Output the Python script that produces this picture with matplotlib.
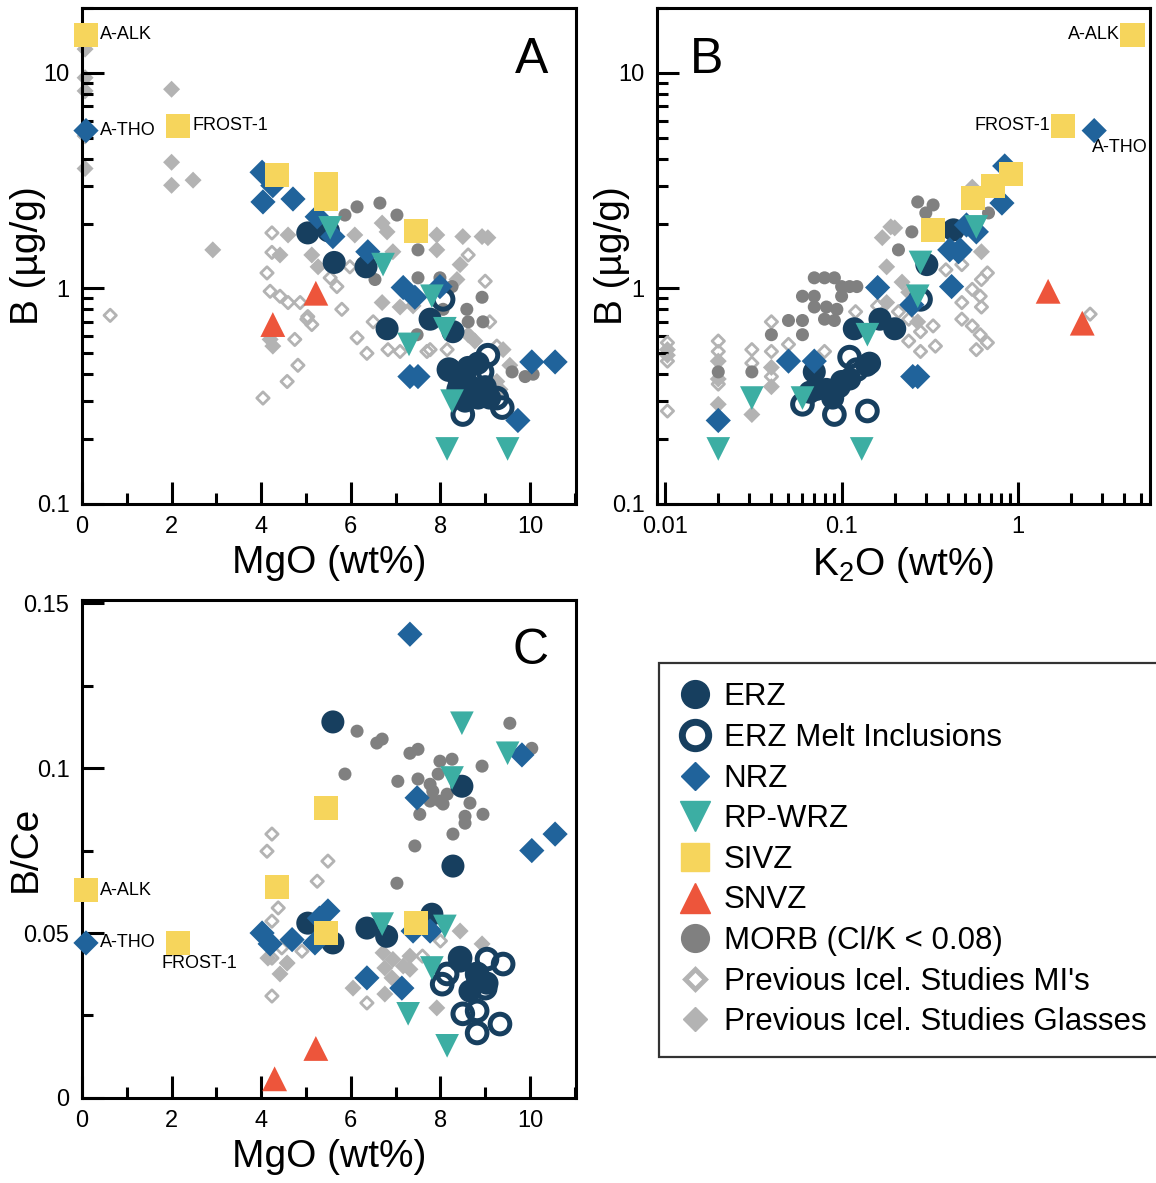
import matplotlib
matplotlib.use("Agg")
import matplotlib.pyplot as plt
from matplotlib import ticker
from matplotlib.lines import Line2D

plt.rcParams['font.family'] = ['Liberation Sans', 'DejaVu Sans']
plt.rcParams['mathtext.default'] = 'regular'

# ---------------- data : panel A (MgO vs B) ----------------
erz_mgo_a = [5.04, 5.5, 5.63, 6.34, 6.81, 7.77, 8.28, 8.21, 8.44, 8.62, 8.84, 8.39, 8.71, 9.0, 8.84, 8.55, 9.1]
erz_b_a = [1.81, 1.85, 1.32, 1.26, 0.65, 0.72, 0.63, 0.42, 0.38, 0.43, 0.45, 0.34, 0.34, 0.35, 0.31, 0.30, 0.31]
erzmi_mgo_a = [8.06, 8.19, 9.06, 8.5, 9.38, 9.26, 8.66, 8.44, 8.93]
erzmi_b_a = [0.89, 0.42, 0.49, 0.26, 0.28, 0.31, 0.38, 0.36, 0.41]
nrz_mgo_a = [0.09, 4.02, 4.04, 4.71, 4.26, 5.25, 5.6, 6.38, 7.17, 7.43, 7.99, 7.32, 7.5, 10.04, 10.56, 9.73]
nrz_b_a = [5.4, 3.46, 2.52, 2.6, 3.0, 2.15, 1.74, 1.48, 1.01, 0.91, 1.02, 0.39, 0.39, 0.456, 0.456, 0.244]
rpw_mgo_a = [5.54, 6.72, 7.3, 7.81, 8.1, 8.26, 8.15, 9.5]
rpw_b_a = [1.91, 1.29, 0.55, 0.92, 0.65, 0.30, 0.18, 0.18]
sivz_mgo_a = [0.1, 2.15, 4.35, 5.45, 5.45, 7.45]
sivz_b_a = [15.0, 5.7, 3.35, 3.05, 2.6, 1.85]
snvz_mgo_a = [4.26, 5.22]
snvz_b_a = [0.68, 0.95]
morb_mgo_a = [5.87, 6.14, 6.65, 7.03, 7.5, 6.54, 7.5, 7.99, 8.26, 8.93, 8.59, 8.62, 8.95, 8.06, 7.48, 9.6, 10.07, 9.89]
morb_b_a = [2.19, 2.39, 2.49, 2.19, 1.51, 1.10, 1.12, 1.12, 1.02, 0.91, 0.80, 0.70, 0.70, 0.80, 0.61, 0.41, 0.40, 0.39]
glass_mgo_a = [0.07, 0.07, 0.07, 0.07, 0.07, 2.0, 2.0, 2.0, 2.48, 2.92, 4.6, 4.42, 5.13, 5.27, 6.09, 6.7, 6.81,
               6.94, 6.7, 7.1, 4.2, 4.26, 7.92, 7.92, 8.5, 8.93, 9.06, 8.44, 8.37, 7.39, 8.62, 8.77, 9.4, 9.55, 9.26, 9.33]
glass_b_a = [12.9, 9.5, 8.25, 5.1, 3.6, 8.4, 3.85, 3.01, 3.18, 1.51, 1.77, 1.43, 1.43, 1.26, 1.77, 2.01, 1.83,
             1.48, 0.86, 0.82, 0.58, 0.54, 1.77, 1.51, 1.74, 1.74, 1.72, 1.29, 1.10, 0.83, 0.61, 0.57, 0.52, 0.44, 0.37, 0.34]
mi_mgo_a = [0.63, 4.24, 4.24, 4.13, 4.2, 4.42, 4.6, 4.87, 5.04, 5.13, 4.75, 4.04, 4.82, 4.58, 5.54, 5.69, 5.8,
            5.98, 6.14, 6.36, 6.5, 6.83, 7.1, 7.7, 8.62, 9.0, 9.1, 8.66, 8.15, 7.77, 5.02, 9.26]
mi_b_a = [0.75, 1.81, 1.47, 1.18, 0.97, 0.92, 0.86, 0.86, 0.74, 0.68, 0.58, 0.31, 0.44, 0.37, 1.12, 1.02, 0.80,
          1.26, 0.59, 0.50, 0.70, 0.52, 0.51, 0.51, 1.43, 1.08, 0.70, 0.60, 0.52, 0.52, 0.72, 0.54]

# ---------------- data : panel B (K2O vs B) ----------------
erz_k2o_b = [0.165, 0.2, 0.118, 0.304, 0.43, 0.144, 0.07, 0.072, 0.082, 0.097, 0.1, 0.089, 0.066, 0.111, 0.139]
erz_b_b = [0.72, 0.65, 0.65, 1.29, 1.87, 0.45, 0.41, 0.34, 0.34, 0.35, 0.37, 0.31, 0.33, 0.38, 0.44]
erzmi_k2o_b = [0.111, 0.122, 0.06, 0.091, 0.14, 0.28]
erzmi_b_b = [0.48, 0.42, 0.29, 0.26, 0.27, 0.89]
nrz_k2o_b = [2.7, 0.81, 0.84, 0.51, 0.41, 0.46, 0.42, 0.25, 0.16, 0.253, 0.27, 0.47, 0.58, 0.05, 0.07, 0.02]
nrz_b_b = [5.4, 2.49, 3.7, 1.97, 1.51, 1.48, 1.02, 0.84, 1.01, 0.39, 0.39, 1.51, 1.83, 0.46, 0.46, 0.244]
rpw_k2o_b = [0.14, 0.28, 0.27, 0.58, 0.031, 0.02, 0.13, 0.06]
rpw_b_b = [0.61, 1.32, 0.92, 1.93, 0.31, 0.18, 0.18, 0.31]
sivz_k2o_b = [4.45, 1.8, 0.91, 0.72, 0.555, 0.33]
sivz_b_b = [15.0, 5.7, 3.4, 3.0, 2.63, 1.87]
snvz_k2o_b = [1.48, 2.31]
snvz_b_b = [0.97, 0.69]
morb_k2o_b = [0.07, 0.08, 0.091, 0.1, 0.111, 0.122, 0.06, 0.07, 0.1, 0.07, 0.082, 0.094, 0.08, 0.091, 0.05,
              0.06, 0.06, 0.04, 0.02, 0.031, 0.27, 0.33, 0.3, 0.25, 0.21, 0.68]
morb_b_b = [1.12, 1.12, 1.12, 1.02, 1.02, 1.02, 0.92, 0.92, 0.92, 0.82, 0.82, 0.80, 0.72, 0.71, 0.71,
            0.71, 0.61, 0.61, 0.41, 0.41, 2.52, 2.44, 2.24, 1.83, 1.51, 2.24]
glass_k2o_b = [0.0103, 0.0103, 0.02, 0.02, 0.02, 0.031, 0.04, 0.04, 0.18, 0.17, 0.19, 0.2, 0.22, 0.24, 0.18,
               0.27, 0.62, 0.58, 0.55]
glass_b_b = [0.52, 0.49, 0.46, 0.38, 0.29, 0.26, 0.43, 0.35, 1.26, 1.72, 1.93, 1.91, 1.07, 0.96, 0.86,
             0.70, 1.48, 2.65, 2.95]
mi_k2o_b = [0.0103, 0.0103, 0.0103, 0.02, 0.02, 0.02, 0.031, 0.031, 0.04, 0.04, 0.04, 0.05, 0.08, 0.12, 0.16,
            0.21, 0.24, 0.28, 0.33, 0.24, 0.28, 0.34, 0.39, 0.48, 0.48, 0.48, 0.55, 0.61, 0.62, 0.67, 0.62,
            0.55, 0.61, 0.67, 0.58, 2.56]
mi_b_b = [0.56, 0.46, 0.27, 0.57, 0.51, 0.36, 0.52, 0.45, 0.70, 0.51, 0.39, 0.55, 0.51, 0.78, 0.83,
          0.78, 0.72, 0.63, 0.67, 0.57, 0.51, 0.54, 1.22, 1.29, 0.86, 0.72, 0.99, 0.92, 1.10, 1.18, 0.82,
          0.67, 0.61, 0.56, 0.52, 0.76]

# ---------------- data : panel C (MgO vs B/Ce) ----------------
erz_mgo_c = [5.6, 8.48, 8.28, 5.04, 5.6, 6.36, 6.8, 7.81, 8.44, 8.82, 9.04, 8.66]
erz_bce_c = [0.114, 0.0945, 0.0703, 0.053, 0.047, 0.0515, 0.049, 0.0557, 0.0415, 0.037, 0.0348, 0.0324]
erzmi_mgo_c = [9.4, 9.04, 8.44, 8.15, 8.04, 8.82, 9.0, 8.5, 8.82, 9.33, 8.82]
erzmi_bce_c = [0.0406, 0.0421, 0.0424, 0.0376, 0.0345, 0.0376, 0.0333, 0.0255, 0.0264, 0.0224, 0.0197]
nrz_mgo_c = [0.09, 7.32, 4.02, 4.2, 4.69, 5.3, 5.49, 5.2, 6.36, 7.14, 7.39, 7.77, 9.82, 7.48, 10.56, 10.04]
nrz_bce_c = [0.047, 0.1406, 0.050, 0.0467, 0.048, 0.0545, 0.0567, 0.047, 0.0364, 0.0333, 0.0506, 0.0506,
             0.104, 0.091, 0.080, 0.075]
rpw_mgo_c = [8.48, 9.5, 8.26, 6.7, 8.1, 7.81, 7.28, 8.15]
rpw_bce_c = [0.1136, 0.1045, 0.097, 0.0527, 0.052, 0.0394, 0.0255, 0.0158]
sivz_mgo_c = [0.1, 2.15, 4.35, 5.45, 5.45, 7.45]
sivz_bce_c = [0.063, 0.047, 0.064, 0.088, 0.050, 0.053]
snvz_mgo_c = [4.3, 5.22]
snvz_bce_c = [0.0058, 0.015]
morb_mgo_c = [6.14, 6.58, 6.7, 7.32, 7.5, 5.87, 7.05, 7.5, 7.99, 8.26, 8.93, 9.55, 10.04, 7.43, 7.03, 8.28,
              8.55, 8.95, 8.66, 8.06, 7.54, 7.83, 7.77, 8.15, 7.95, 8.55, 7.99, 7.77]
morb_bce_c = [0.1112, 0.1076, 0.1088, 0.1045, 0.1057, 0.0982, 0.096, 0.0967, 0.1021, 0.1027, 0.1006, 0.1136,
              0.106, 0.0764, 0.0651, 0.080, 0.0854, 0.086, 0.0894, 0.0891, 0.086, 0.093, 0.0951, 0.0921,
              0.0982, 0.0833, 0.090, 0.090]
glass_mgo_c = [6.72, 6.94, 7.32, 7.17, 6.76, 6.92, 6.05, 6.76, 7.32, 8.44, 8.93, 7.92, 4.42, 4.15, 4.58]
glass_bce_c = [0.044, 0.042, 0.043, 0.040, 0.0394, 0.0364, 0.0333, 0.0315, 0.039, 0.0506, 0.0467, 0.0273,
               0.0376, 0.0424, 0.0409]
mi_mgo_c = [4.24, 4.13, 5.49, 5.25, 4.38, 4.24, 4.46, 4.24, 4.58, 4.91, 4.24, 6.36, 7.6, 8.0]
mi_bce_c = [0.080, 0.0748, 0.0718, 0.0657, 0.0576, 0.0536, 0.0455, 0.0424, 0.0409, 0.0445, 0.0309, 0.0288,
            0.043, 0.0476]

labels = ["ERZ", "ERZ Melt Inclusions", "NRZ", "RP-WRZ", "SIVZ", "SNVZ",
          "MORB (Cl/K < 0.08)", "Previous Icel. Studies MI's", "Previous Icel. Studies Glasses"]

# ---------------- styles ----------------
navy, blue, teal, yellow, red = '#173F5F', '#20639B', '#3CAEA3', '#F6D55C', '#ED553B'
gray, lgray = '#808080', '#b3b3b3'
styles = {
    "ERZ": dict(marker='o', s=275, c=navy, edgecolors='none', zorder=4),
    "ERZ Melt Inclusions": dict(marker='o', s=200, facecolors='none', edgecolors=navy, linewidths=3.6, zorder=5),
    "NRZ": dict(marker='D', s=165, c=blue, edgecolors='none', zorder=6),
    "RP-WRZ": dict(marker='v', s=290, c=teal, edgecolors='none', zorder=7),
    "SIVZ": dict(marker='s', s=300, c=yellow, edgecolors='none', zorder=8),
    "SNVZ": dict(marker='^', s=320, c=red, edgecolors='none', zorder=9),
    "MORB (Cl/K < 0.08)": dict(marker='o', s=88, c=gray, edgecolors='none', zorder=3),
    "Previous Icel. Studies MI's": dict(marker='D', s=40, facecolors='none', edgecolors=lgray, linewidths=2.0, zorder=2),
    "Previous Icel. Studies Glasses": dict(marker='D', s=75, c=lgray, edgecolors='none', zorder=1),
}
# legend symbols are drawn larger and all about the same size
legend_marks = {
    "ERZ": dict(marker='o', markersize=20, color=navy),
    "ERZ Melt Inclusions": dict(marker='o', markersize=19, markerfacecolor='none', markeredgecolor=navy,
                                markeredgewidth=5),
    "NRZ": dict(marker='D', markersize=14, color=blue),
    "RP-WRZ": dict(marker='v', markersize=21, color=teal),
    "SIVZ": dict(marker='s', markersize=20, color=yellow),
    "SNVZ": dict(marker='^', markersize=21, color=red),
    "MORB (Cl/K < 0.08)": dict(marker='o', markersize=20, color=gray),
    "Previous Icel. Studies MI's": dict(marker='D', markersize=10, markerfacecolor='none',
                                        markeredgecolor=lgray, markeredgewidth=3.5),
    "Previous Icel. Studies Glasses": dict(marker='D', markersize=12.5, color=lgray),
}

fig = plt.figure(figsize=(11.56, 11.83), dpi=100)
axA = fig.add_axes([0.0709, 0.5740, 0.4275, 0.4192])
axB = fig.add_axes([0.5684, 0.5740, 0.4265, 0.4192])
axC = fig.add_axes([0.0709, 0.0719, 0.4275, 0.4210])

panels = [
    (axA, [(erz_mgo_a, erz_b_a), (erzmi_mgo_a, erzmi_b_a), (nrz_mgo_a, nrz_b_a), (rpw_mgo_a, rpw_b_a),
           (sivz_mgo_a, sivz_b_a), (snvz_mgo_a, snvz_b_a), (morb_mgo_a, morb_b_a), (mi_mgo_a, mi_b_a),
           (glass_mgo_a, glass_b_a)]),
    (axB, [(erz_k2o_b, erz_b_b), (erzmi_k2o_b, erzmi_b_b), (nrz_k2o_b, nrz_b_b), (rpw_k2o_b, rpw_b_b),
           (sivz_k2o_b, sivz_b_b), (snvz_k2o_b, snvz_b_b), (morb_k2o_b, morb_b_b), (mi_k2o_b, mi_b_b),
           (glass_k2o_b, glass_b_b)]),
    (axC, [(erz_mgo_c, erz_bce_c), (erzmi_mgo_c, erzmi_bce_c), (nrz_mgo_c, nrz_bce_c), (rpw_mgo_c, rpw_bce_c),
           (sivz_mgo_c, sivz_bce_c), (snvz_mgo_c, snvz_bce_c), (morb_mgo_c, morb_bce_c), (mi_mgo_c, mi_bce_c),
           (glass_mgo_c, glass_bce_c)]),
]

for ax, series in panels:
    for lab, (x, y) in zip(labels, series):
        ax.scatter(x, y, label=lab, clip_on=False, **styles[lab])

fmt = ticker.FuncFormatter(lambda v, _: f'{v:g}')

for ax in (axA, axB, axC):
    for sp in ax.spines.values():
        sp.set_linewidth(2.2)
    ax.tick_params(which='major', direction='in', length=16, width=2.2, labelsize=17, pad=9)
    ax.tick_params(which='minor', direction='in', length=8, width=2.2)

# panel A
axA.set_xlim(0, 11.03)
axA.set_yscale('log')
axA.set_ylim(0.1, 20)
axA.xaxis.set_major_locator(ticker.MultipleLocator(2))
axA.xaxis.set_minor_locator(ticker.MultipleLocator(1))
axA.yaxis.set_major_formatter(fmt)
axA.yaxis.set_minor_formatter(ticker.NullFormatter())
axA.set_xlabel('MgO (wt%)', fontsize=28, labelpad=5)
axA.set_ylabel('B (µg/g)', fontsize=28)
axA.yaxis.set_label_coords(-0.072, 0.5)

# panel B
axB.set_xscale('log')
axB.set_yscale('log')
axB.set_xlim(0.009, 5.6)
axB.set_ylim(0.1, 20)
axB.xaxis.set_major_formatter(fmt)
axB.xaxis.set_minor_formatter(ticker.NullFormatter())
axB.yaxis.set_major_formatter(fmt)
axB.yaxis.set_minor_formatter(ticker.NullFormatter())
axB.set_xlabel('K$_2$O (wt%)', fontsize=28, labelpad=5)
axB.set_ylabel('B (µg/g)', fontsize=28)
axB.yaxis.set_label_coords(-0.055, 0.5)

# panel C
axC.set_xlim(0, 11.03)
axC.set_ylim(0, 0.151)
axC.xaxis.set_major_locator(ticker.MultipleLocator(2))
axC.xaxis.set_minor_locator(ticker.MultipleLocator(1))
axC.yaxis.set_major_locator(ticker.MultipleLocator(0.05))
axC.yaxis.set_minor_locator(ticker.MultipleLocator(0.025))
axC.yaxis.set_major_formatter(fmt)
axC.set_xlabel('MgO (wt%)', fontsize=28, labelpad=5)
axC.set_ylabel('B/Ce', fontsize=28)
axC.yaxis.set_label_coords(-0.077, 0.5)

# panel letters
axA.text(0.910, 0.895, 'A', transform=axA.transAxes, fontsize=36, ha='center', va='center')
axB.text(0.101, 0.895, 'B', transform=axB.transAxes, fontsize=36, ha='center', va='center')
axC.text(0.908, 0.898, 'C', transform=axC.transAxes, fontsize=36, ha='center', va='center')

# reference material labels
ann = dict(textcoords='offset points', fontsize=13, va='center')
axA.annotate('A-ALK', (sivz_mgo_a[0], sivz_b_a[0]), xytext=(10, 0), ha='left', **ann)
axA.annotate('A-THO', (nrz_mgo_a[0], nrz_b_a[0]), xytext=(10, 0), ha='left', **ann)
axA.annotate('FROST-1', (sivz_mgo_a[1], sivz_b_a[1]), xytext=(10, 0), ha='left', **ann)
axB.annotate('A-ALK', (sivz_k2o_b[0], sivz_b_b[0]), xytext=(-9, 0), ha='right', **ann)
axB.annotate('FROST-1', (sivz_k2o_b[1], sivz_b_b[1]), xytext=(-9, 0), ha='right', **ann)
axB.annotate('A-THO', (nrz_k2o_b[0], nrz_b_b[0]), xytext=(-1.5, -12), ha='left', **ann)
axC.annotate('A-ALK', (sivz_mgo_c[0], sivz_bce_c[0]), xytext=(10, 0), ha='left', **ann)
axC.annotate('A-THO', (nrz_mgo_c[0], nrz_bce_c[0]), xytext=(10, 0), ha='left', **ann)
axC.annotate('FROST-1', (sivz_mgo_c[1], sivz_bce_c[1]), xytext=(15, -15), ha='center', **ann)

handles = [Line2D([], [], linestyle='none', **legend_marks[lab]) for lab in labels]
leg = fig.legend(handles=handles, labels=labels, loc='upper left', bbox_to_anchor=(0.570, 0.4396),
                 fontsize=22.5, frameon=True, fancybox=False, edgecolor='black', borderaxespad=0,
                 labelspacing=0.34, handletextpad=0.4, borderpad=0.62, handlelength=1.05)
leg.get_frame().set_linewidth(1.6)

fig.savefig('out.png', dpi=100)
